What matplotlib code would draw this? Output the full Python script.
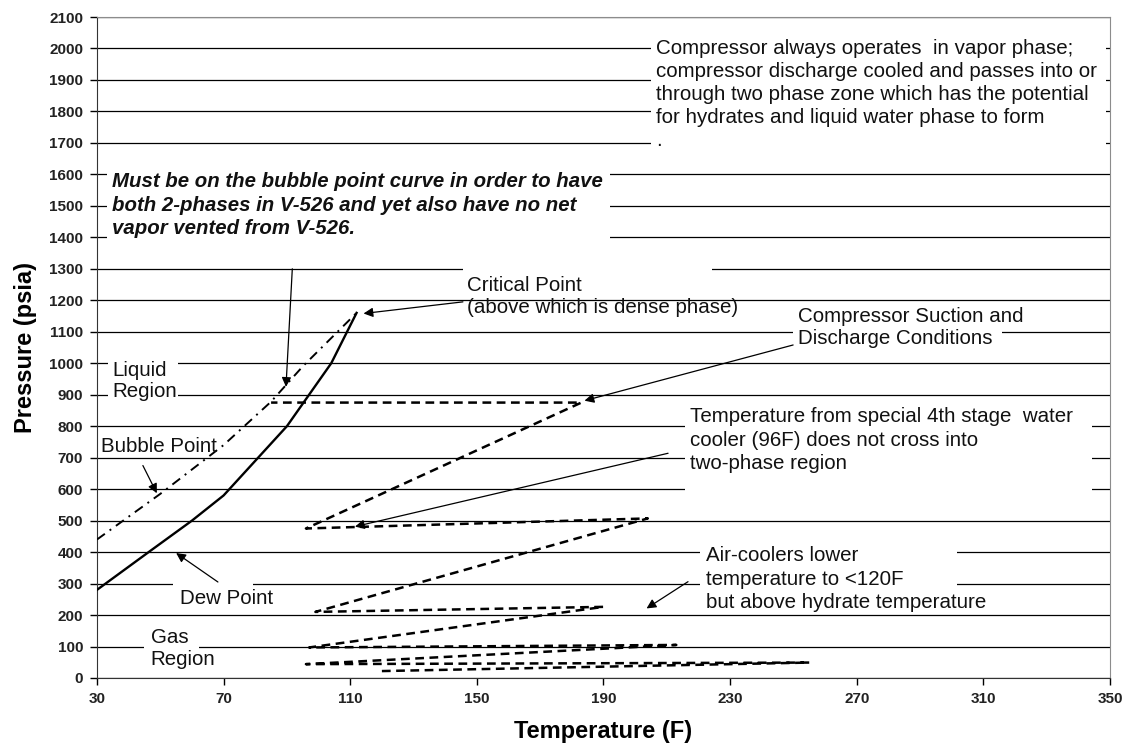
import matplotlib
matplotlib.use('Agg')
import matplotlib.pyplot as plt
import matplotlib.patches as patches

plt.rcParams['font.family'] = ['Liberation Sans', 'DejaVu Sans']

# dew point curve (solid)
dew_t = [30, 47, 60, 70, 80, 90, 97, 104, 112]
dew_p = [280, 405, 500, 580, 690, 800, 900, 1000, 1160]

# bubble point curve (dash-dot)
bubble_t = [30, 50, 70, 85, 95, 112]
bubble_p = [440, 585, 740, 878, 990, 1160]

# compressor suction / discharge path (dashed)
path_t = [120, 255, 96, 213, 97, 190, 99, 204, 96, 183, 85]
path_p = [22, 49, 44, 105, 97, 226, 210, 507, 475, 875, 875]

x_ticks = [30, 70, 110, 150, 190, 230, 270, 310, 350]
y_ticks = list(range(0, 2101, 100))

fig = plt.figure(figsize=(11.33, 7.49), dpi=100)
ax = fig.add_axes([0.0856, 0.0948, 0.8941, 0.8825])

ax.set_xlim(30, 350)
ax.set_ylim(0, 2100)
ax.set_xticks(x_ticks)
ax.set_yticks(y_ticks)
ax.tick_params(direction='out', length=5, width=1, labelsize=11, pad=5)
for lab in ax.get_xticklabels() + ax.get_yticklabels():
    lab.set_fontweight('bold')
    lab.set_color('#222222')

ax.set_axisbelow(True)
ax.yaxis.grid(True, color='black', lw=0.9)
for s in ['top', 'right']:
    ax.spines[s].set_color('#8c8c8c')
for s in ['left', 'bottom']:
    ax.spines[s].set_color('#333333')

ax.set_xlabel('Temperature (F)', fontsize=17, fontweight='bold')
ax.xaxis.set_label_coords(0.5, -0.064)
ax.set_ylabel('Pressure (psia)', fontsize=17, fontweight='bold')
ax.yaxis.set_label_coords(-0.059, 0.5)

# white text-box backgrounds that hide the gridlines
masks = [
    (205, 348.6, 1677, 2049),
    (33.2, 192, 1344, 1645),
    (145.6, 224.2, 1260, 1330),
    (249.8, 315.8, 1060, 1140),
    (215.7, 344.2, 565, 867),
    (220.4, 301.6, 250, 450),
    (33.5, 55.6, 877, 1020),
    (54, 79.3, 285, 315),
    (44.8, 62.2, 85, 115),
]
for x0, x1, y0, y1 in masks:
    ax.add_patch(patches.Rectangle((x0, y0), x1 - x0, y1 - y0, facecolor='white',
                                   edgecolor='none', zorder=1))

ax.plot(dew_t, dew_p, color='black', lw=1.7, zorder=3)
ax.plot(bubble_t, bubble_p, color='black', lw=1.4, linestyle=(0, (5, 3, 1, 3)), zorder=3)
ax.plot(path_t, path_p, color='black', lw=1.8, linestyle=(0, (3.5, 2.2)), zorder=3)

fs = 14.8
txt = dict(fontsize=fs, va='center', ha='left', zorder=4, color='#111111')
ax.text(206.5, 1855, 'Compressor always operates  in vapor phase;\n'
        'compressor discharge cooled and passes into or\n'
        'through two phase zone which has the potential\n'
        'for hydrates and liquid water phase to form\n.', linespacing=1.27, **txt)
ax.text(34.7, 1502, 'Must be on the bubble point curve in order to have\n'
        'both 2-phases in V-526 and yet also have no net\n'
        'vapor vented from V-526.', fontweight='bold', style='italic',
        linespacing=1.3, **dict(txt, fontsize=14.7))
ax.text(146.8, 1212, 'Critical Point\n(above which is dense phase)', linespacing=1.2, **txt)
ax.text(35.0, 943, 'Liquid\nRegion', linespacing=1.15, **txt)
ax.text(31.3, 737, 'Bubble Point', **txt)
ax.text(56.2, 251, 'Dew Point', **txt)
ax.text(47.0, 95, 'Gas\nRegion', linespacing=1.2, **txt)
ax.text(251.3, 1113, 'Compressor Suction and\nDischarge Conditions', linespacing=1.2, **txt)
ax.text(217.2, 756, 'Temperature from special 4th stage  water\n'
        'cooler (96F) does not cross into\ntwo-phase region', linespacing=1.3, **txt)
ax.text(222.3, 314, 'Air-coolers lower\ntemperature to <120F\n'
        'but above hydrate temperature', linespacing=1.3, **txt)

arrows = [
    ((91.7, 1300), (89.7, 925)),
    ((145.6, 1195), (114.2, 1158)),
    ((249.9, 1058), (184, 881)),
    ((210.4, 714), (111.5, 481)),
    ((216.7, 306), (203.6, 221)),
    ((44.5, 675), (48.9, 587)),
    ((68.2, 305), (55, 397)),
]
for start, tip in arrows:
    ax.annotate('', xy=tip, xytext=start, zorder=4,
                arrowprops=dict(arrowstyle='-|>', color='black', lw=0.9,
                                mutation_scale=14, shrinkA=0, shrinkB=0))

fig.savefig('out.png', dpi=100)
